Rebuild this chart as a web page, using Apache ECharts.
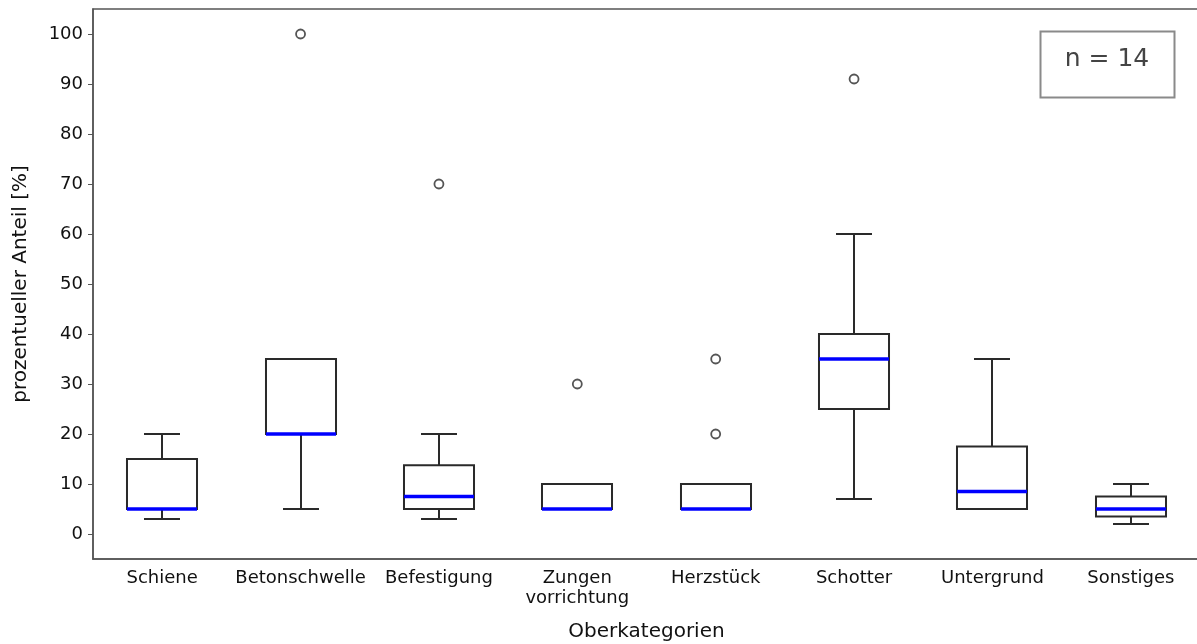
<!DOCTYPE html>
<html>
<head>
<meta charset="utf-8">
<script src="https://cdn.jsdelivr.net/npm/echarts@6/dist/echarts.min.js"></script>
<style>
  html, body { margin: 0; padding: 0; background: #fff; }
  #chart { width: 1197px; height: 644px; }
</style>
</head>
<body>
<div id="chart"></div>
<script>
// Kategorien und Boxplot-Kennwerte (prozentueller Anteil)
const categories = ['Schiene', 'Betonschwelle', 'Befestigung', 'Zungen\nvorrichtung',
                    'Herzstück', 'Schotter', 'Untergrund', 'Sonstiges'];
const whiskerLow  = [3, 5, 3, 5, 5, 7, 5, 2];
const quartile1   = [5, 20, 5, 5, 5, 25, 5, 3.5];
const medians     = [5, 20, 7.5, 5, 5, 35, 8.5, 5];
const quartile3   = [15, 35, 13.75, 10, 10, 40, 17.5, 7.5];
const whiskerHigh = [20, 35, 20, 10, 10, 60, 35, 10];
// Ausreißer: [Kategorie-Index, Wert]
const outliers = [[1, 100], [2, 70], [3, 30], [4, 35], [4, 20], [5, 91]];
const yTicks = [0, 10, 20, 30, 40, 50, 60, 70, 80, 90, 100];
const sampleLabel = 'n = 14';

const boxData = categories.map((c, i) =>
  [i, whiskerLow[i], quartile1[i], medians[i], quartile3[i], whiskerHigh[i]]);

const LINE = '#2a2a2a';
const AXIS = '#555';
const FONT = 'DejaVu Sans';

function renderBox(params, api) {
  const i = api.value(0);
  const lo = api.coord([i, api.value(1)]);
  const q1 = api.coord([i, api.value(2)]);
  const md = api.coord([i, api.value(3)]);
  const q3 = api.coord([i, api.value(4)]);
  const hi = api.coord([i, api.value(5)]);
  const band = api.size([1, 0])[0];
  const half = band * 0.253;
  const cap = band * 0.13;
  const cx = Math.round(lo[0]);
  const st = { stroke: LINE, lineWidth: 2, fill: null };
  const children = [
    { type: 'line', shape: { x1: cx, y1: lo[1], x2: cx, y2: q1[1] }, style: st },
    { type: 'line', shape: { x1: cx, y1: q3[1], x2: cx, y2: hi[1] }, style: st },
    { type: 'line', shape: { x1: cx - cap, y1: lo[1], x2: cx + cap, y2: lo[1] }, style: st },
    { type: 'line', shape: { x1: cx - cap, y1: hi[1], x2: cx + cap, y2: hi[1] }, style: st },
    { type: 'rect', shape: { x: cx - half, y: q3[1], width: 2 * half, height: q1[1] - q3[1] },
      style: { stroke: LINE, lineWidth: 2, fill: '#fff' } },
    { type: 'line', shape: { x1: cx - half, y1: md[1], x2: cx + half, y2: md[1] },
      style: { stroke: '#0000ff', lineWidth: 3.5 } }
  ];
  return { type: 'group', children };
}

const chart = echarts.init(document.getElementById('chart'), null, { renderer: 'canvas' });
chart.setOption({
  backgroundColor: '#fff',
  animation: false,
  textStyle: { fontFamily: FONT },
  grid: {
    left: 93, top: 9, right: -3, bottom: 85,
    outerBoundsMode: 'none',
    containLabel: false,
    show: true, borderColor: AXIS, borderWidth: 1.5
  },
  xAxis: {
    type: 'category',
    data: categories,
    name: 'Oberkategorien',
    nameLocation: 'middle',
    nameGap: 63,
    nameTextStyle: { fontFamily: FONT, fontSize: 20, color: '#111' },
    axisLine: { onZero: false, lineStyle: { color: AXIS, width: 1.5 } },
    axisTick: { alignWithLabel: true, length: 5, lineStyle: { color: AXIS } },
    axisLabel: { fontFamily: FONT, fontSize: 18, color: '#111', margin: 9, lineHeight: 20, interval: 0 },
    splitLine: { show: false }
  },
  yAxis: {
    type: 'value',
    min: -5,
    max: 105,
    name: 'prozentueller Anteil [%]',
    nameLocation: 'middle',
    nameGap: 62,
    nameTextStyle: { fontFamily: FONT, fontSize: 20, color: '#111' },
    axisLine: { show: true, lineStyle: { color: AXIS, width: 1.5 } },
    axisTick: { show: true, length: 5, customValues: yTicks, lineStyle: { color: AXIS } },
    axisLabel: { fontFamily: FONT, fontSize: 18, color: '#111', margin: 10, customValues: yTicks },
    splitLine: { show: false }
  },
  series: [
    {
      type: 'custom',
      renderItem: renderBox,
      data: boxData,
      encode: { x: 0, y: [1, 2, 3, 4, 5] },
      z: 2
    },
    {
      type: 'scatter',
      data: outliers,
      symbol: 'circle',
      symbolSize: 9,
      itemStyle: { color: '#fff', borderColor: LINE, borderWidth: 1.8 },
      z: 3
    }
  ],
  graphic: [
    {
      type: 'rect',
      shape: { x: 1040.5, y: 31.5, width: 134, height: 66 },
      style: { fill: '#fff', stroke: '#8a8a8a', lineWidth: 2 },
      z: 10
    },
    {
      type: 'text',
      x: 1107, y: 59,
      style: {
        text: sampleLabel, fontFamily: FONT, fontSize: 25, fill: '#444',
        align: 'center', verticalAlign: 'middle'
      },
      z: 11
    }
  ]
});
</script>
</body>
</html>
